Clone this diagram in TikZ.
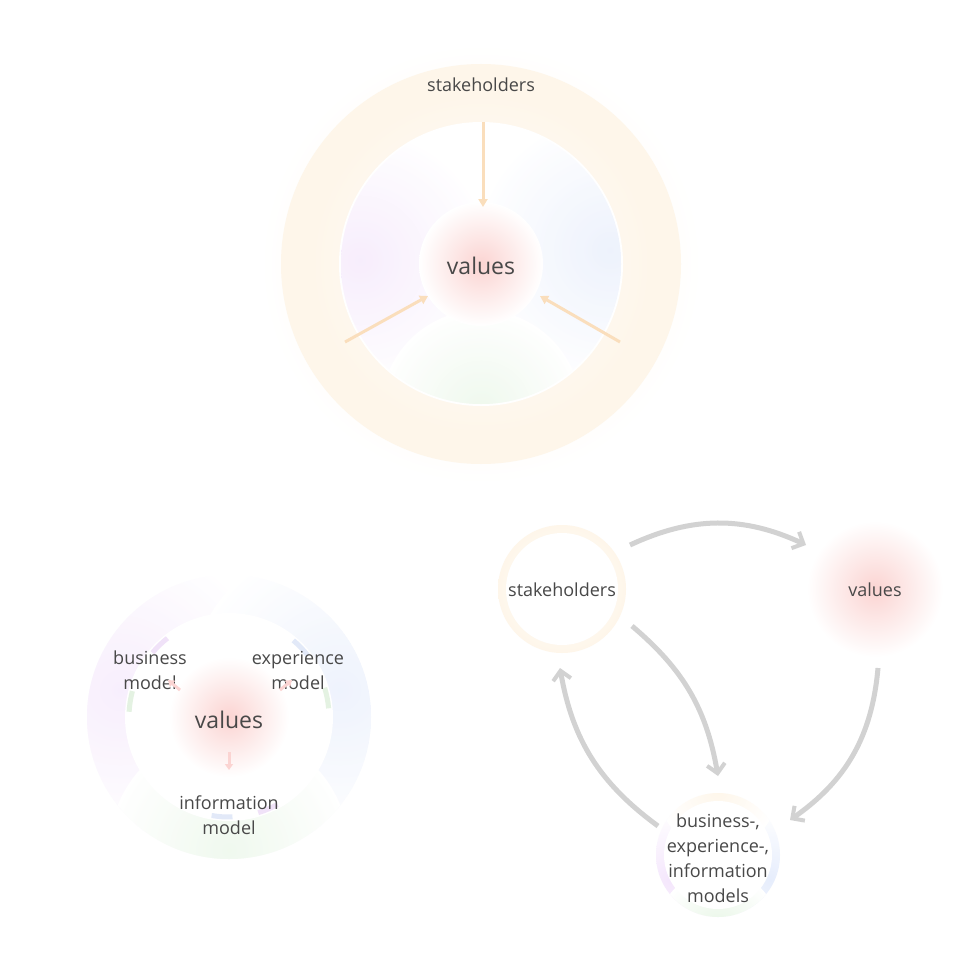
\documentclass[tikz,border=0pt]{standalone}
\usepackage{fontspec}
\setmainfont{Open Sans}
\usetikzlibrary{arrows.meta}
\definecolor{ring}{RGB}{254,246,234}
\definecolor{oarr}{RGB}{250,222,188}
\definecolor{glow}{RGB}{251,212,210}
\definecolor{pur}{RGB}{244,230,252}
\definecolor{blu}{RGB}{230,237,252}
\definecolor{grn}{RGB}{232,246,230}
\definecolor{txt}{RGB}{72,72,72}
\definecolor{garr}{RGB}{210,210,210}
\begin{document}
\begin{tikzpicture}[x=1pt,y=-1pt,
  lbl/.style={text=txt,font=\fontsize{18}{25}\selectfont,align=center},
  big/.style={text=txt,font=\fontsize{23}{27}\selectfont},
  oar/.style={draw=oarr,line width=3pt,-{Triangle[length=8pt,width=9pt]}},
  gar/.style={draw=garr,line width=5pt,-{Straight Barb[length=9pt,width=18pt,line width=4pt]}},
  rar/.style={draw=glow,line width=3pt,-{Triangle[length=6pt,width=8pt]}}]
\fill[white] (0,0) rectangle (963,963);
% ---- top
\shade[inner color=ring,outer color=white] (481,264) circle (222);
\fill[ring] (481,264) circle (200);
\shade[inner color=white,outer color=ring] (481,264) circle (170);
\fill[white] (481,264) circle (142);
\begin{scope}
\clip (481,264) circle (140);
\shade[inner color=pur,outer color=white] (360,260) circle (130);
\shade[inner color=blu,outer color=white] (610,250) circle (135);
\shade[inner color=grn,outer color=white] (481,410) circle (100);
\fill[white,opacity=0.3] (481,264) circle (140);
\end{scope}
\shade[inner color=glow,outer color=white] (481,264) circle (62);
\node[big] (v1) at (481,266) {values};
\node[lbl] (s1) at (481,85) {stakeholders};
\coordinate (a1) at (483,122);
\coordinate (a2) at (345,342);
\coordinate (a3) at (620,342);
\coordinate (t1) at (483,207);
\coordinate (t2) at (428,296);
\coordinate (t3) at (540,296);
\draw[oar] (a1) -- (t1);
\draw[oar] (a2) -- (t2);
\draw[oar] (a3) -- (t3);
% ---- bottom left
\begin{scope}
\clip (229,717) circle (142);
\shade[inner color=pur,outer color=white] (120,690) circle (150);
\shade[inner color=blu,outer color=white] (340,690) circle (150);
\shade[inner color=grn,outer color=white] (229,850) circle (120);
\fill[white,opacity=0.35] (229,717) circle (142);
\end{scope}
\fill[white] (229,717) circle (104);
\shade[inner color=glow,outer color=white] (229,717) circle (60);
\foreach \a/\c in {100/blu,73/pur,-5/grn,-38/blu,195/grn,232/pur}{
  \draw[\c!90!black!15!\c,line width=5pt] (229,717) ++(\a:100) arc[start angle=\a,delta angle=-12,radius=100];}
\node[big] (v2) at (229,720) {values};
\node[lbl] (bm) at (150,670) {business\\model};
\node[lbl] (em) at (298,670) {experience\\model};
\node[lbl] (im) at (229,815) {information\\model};
\draw[rar] (180,690) -- (168,680);
\draw[rar] (280,690) -- (292,680);
\draw[rar] (229,752) -- (229,770);
% ---- bottom right
\shade[inner color=white,outer color=ring] (562,589) circle (64);
\fill[white] (562,589) circle (56);
\node[lbl] (s2) at (562,590) {stakeholders};
\shade[inner color=glow,outer color=white] (875,589) circle (68);
\node[lbl] (v3) at (875,590) {values};
\begin{scope}
\clip (718,855) circle (62);
\shade[inner color=pur,outer color=white] (670,880) circle (70);
\shade[inner color=blu,outer color=white] (770,880) circle (70);
\shade[inner color=grn,outer color=white] (718,930) circle (60);
\shade[inner color=ring,outer color=white] (718,790) circle (60);
\end{scope}
\fill[white] (718,855) circle (54);
\node[lbl] (m) at (718,858) {business-,\\experience-,\\information\\models};
\coordinate (p1) at (630,545);
\coordinate (q1) at (806,545);
\coordinate (p2) at (632,626);
\coordinate (q2) at (718,776);
\coordinate (p3) at (878,668);
\coordinate (q3) at (790,820);
\coordinate (p4) at (658,826);
\coordinate (q4) at (560,668);
\draw[gar] (p1) to[bend left=25] (q1);
\draw[gar] (p2) to[bend left=20] (q2);
\draw[gar] (p3) to[bend left=25] (q3);
\draw[gar] (p4) to[bend left=22] (q4);
\end{tikzpicture}
\end{document}
